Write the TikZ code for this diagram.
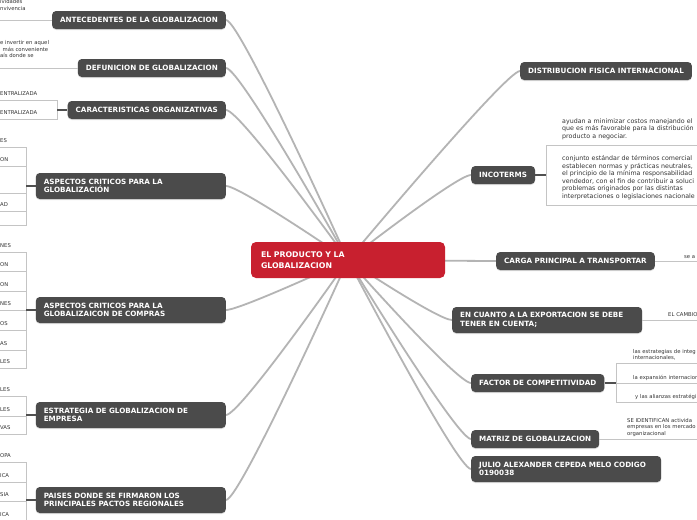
\documentclass[tikz,border=0pt]{standalone}
\usepackage{fontspec}
\setmainfont{DejaVu Sans}
\usepackage{tikz}
\usetikzlibrary{backgrounds, shadows}
\definecolor{topicfill}{HTML}{4B4B4B}
\definecolor{rootfill}{HTML}{C8202F}
\definecolor{branchgray}{HTML}{B4B4B4}
\definecolor{leafgray}{HTML}{C4C4C4}
\definecolor{stubgray}{HTML}{505050}
\definecolor{leafink}{HTML}{333333}
\tikzset{
    rootnode/.style={
        rectangle, rounded corners=5pt, fill=rootfill, text=white,
        font=\fontsize{7.8}{10.5}\selectfont\bfseries, align=left,
        text width=174pt, inner xsep=10pt, minimum height=36pt
    },
    topic/.style={
        rectangle, rounded corners=4pt, fill=topicfill, text=white,
        font=\fontsize{7.2}{8.4}\selectfont\bfseries,
        inner xsep=8pt, inner ysep=0pt, minimum height=18pt,
        drop shadow={shadow xshift=0pt, shadow yshift=-1pt, opacity=0.25}
    },
    widetopic/.style={
        topic, align=left, text width=174pt, inner xsep=8pt, minimum height=26pt
    },
    leaf/.style={
        font=\fontsize{5.3}{6.5}\selectfont, text=leafink, align=left,
        inner xsep=0pt, inner ysep=4pt, anchor=south west
    },
    rightleaf/.style={
        leaf, inner ysep=2.5pt, text width=100pt
    },
    bigleaf/.style={
        leaf, font=\fontsize{6.3}{7.6}\selectfont, inner ysep=5pt, text width=220pt
    },
    branch/.style={draw=branchgray, line width=1.8pt},
    leafline/.style={draw=leafgray, line width=0.8pt},
    stub/.style={draw=stubgray, line width=1.2pt},
}

\begin{document}
\begin{tikzpicture}[x=1pt, y=-1pt]
    \useasboundingbox (0,0) rectangle (697,520);
    \clip (0,0) rectangle (697,520);

    % ── Root ──
    \node[rootnode] (root) at (348,260) {EL PRODUCTO Y LA\\GLOBALIZACION};

    % ── Left topics ──
    \node[topic, anchor=east] (ant) at (226,20) {ANTECEDENTES DE LA GLOBALIZACION};
    \node[topic, anchor=east] (def) at (226,68) {DEFUNICION DE GLOBALIZACION};
    \node[topic, anchor=east] (car) at (226,110) {CARACTERISTICAS ORGANIZATIVAS};
    \node[widetopic, anchor=east] (acg) at (226,186) {ASPECTOS CRITICOS PARA LA\\GLOBALIZACIÓN};
    \node[widetopic, anchor=east] (acc) at (226,310) {ASPECTOS CRITICOS PARA LA\\GLOBALIZAICON DE COMPRAS};
    \node[widetopic, anchor=east] (est) at (226,415) {ESTRATEGIA DE GLOBALIZACION DE\\EMPRESA};
    \node[widetopic, anchor=east] (pai) at (226,500) {PAISES DONDE SE FIRMARON LOS\\PRINCIPALES PACTOS REGIONALES};

    % ── Right topics ──
    \node[topic, anchor=west] (dfi) at (520,71) {DISTRIBUCION FISICA INTERNACIONAL};
    \node[topic, anchor=west] (inc) at (471,175) {INCOTERMS};
    \node[topic, anchor=west] (cpt) at (496,261) {CARGA PRINCIPAL A TRANSPORTAR};
    \node[widetopic, anchor=west] (exp) at (452,320) {EN CUANTO A LA EXPORTACION SE DEBE\\TENER EN CUENTA;};
    \node[topic, anchor=west] (fac) at (471,383) {FACTOR DE COMPETITIVIDAD};
    \node[topic, anchor=west] (mat) at (471,439) {MATRIZ DE GLOBALIZACION};
    \node[widetopic, anchor=west] (jul) at (471,469) {JULIO ALEXANDER CEPEDA MELO CODIGO\\0190038};

    % ── Branches ──
    \begin{pgfonlayer}{background}
        \fill[white] (0,0) rectangle (697,520);
        \draw[branch] (ant.east) .. controls +(14,0) and +(0,0) .. (root.center);
        \draw[branch] (def.east) .. controls +(14,0) and +(0,0) .. (root.center);
        \draw[branch] (car.east) .. controls +(14,0) and +(0,0) .. (root.center);
        \draw[branch] (acg.east) .. controls +(14,0) and +(0,0) .. (root.center);
        \draw[branch] (acc.east) .. controls +(14,0) and +(0,0) .. (root.center);
        \draw[branch] (est.east) .. controls +(14,0) and +(0,0) .. (root.center);
        \draw[branch] (pai.east) .. controls +(14,0) and +(0,0) .. (root.center);
        \draw[branch] (dfi.west) .. controls +(-14,0) and +(0,0) .. (root.center);
        \draw[branch] (inc.west) .. controls +(-14,0) and +(0,0) .. (root.center);
        \draw[branch] (cpt.west) .. controls +(-14,0) and +(0,0) .. (root.center);
        \draw[branch] (exp.west) .. controls +(-14,0) and +(0,0) .. (root.center);
        \draw[branch] (fac.west) .. controls +(-14,0) and +(0,0) .. (root.center);
        \draw[branch] (mat.west) .. controls +(-14,0) and +(0,0) .. (root.center);
        \draw[branch] (jul.west) .. controls +(-14,0) and +(0,0) .. (root.center);
    \end{pgfonlayer}

    % ── Left leaves ──
    \node[leaf, anchor=north west, inner ysep=0pt] (ant1) at (0,-0.5) {ividades\\nvivencia};
    \draw[leafline] (ant.west) -- (ant.west -| ant1.west);

    \node[leaf, anchor=north west, inner ysep=0pt] (def1) at (0,40.5) {e invertir en aquel\\\hspace*{2.5pt}más conveniente\\aís donde se};
    \draw[leafline] (def.west) -- (def.west -| def1.west);

    \coordinate (cark) at (57,110);
    \node[leaf] (car1) at (0,100) {ENTRALIZADA};
    \node[leaf] (car2) at (0,119) {ENTRALIZADA};
    \draw[leafline] (car1.south west) -| (cark);
    \draw[leafline] (car2.south west) -| (cark);
    \draw[stub] (cark) -- (car.west);

    \coordinate (acgk) at (26,186);
    \node[leaf] (acg1) at (0,147) {ES};
    \node[leaf] (acg2) at (0,166) {ON};
    \coordinate (acg3) at (0,193);
    \node[leaf] (acg4) at (0,211) {AD};
    \coordinate (acg5) at (0,225);
    \draw[leafline] (acg1.south west) -| (acgk);
    \draw[leafline] (acg2.south west) -| (acgk);
    \draw[leafline] (acg3) -| (acgk);
    \draw[leafline] (acg4.south west) -| (acgk);
    \draw[leafline] (acg5) -| (acgk);
    \draw[stub] (acgk) -- (acg.west);

    \coordinate (acck) at (26,310);
    \node[leaf] (acc1) at (0,252) {NES};
    \node[leaf] (acc2) at (0,271) {ON};
    \node[leaf] (acc3) at (0,291) {ON};
    \node[leaf] (acc4) at (0,310) {NES};
    \node[leaf] (acc5) at (0,330) {OS};
    \node[leaf] (acc6) at (0,350) {AS};
    \node[leaf] (acc7) at (0,368) {LES};
    \draw[leafline] (acc1.south west) -| (acck);
    \draw[leafline] (acc2.south west) -| (acck);
    \draw[leafline] (acc3.south west) -| (acck);
    \draw[leafline] (acc4.south west) -| (acck);
    \draw[leafline] (acc5.south west) -| (acck);
    \draw[leafline] (acc6.south west) -| (acck);
    \draw[leafline] (acc7.south west) -| (acck);
    \draw[stub] (acck) -- (acc.west);

    \coordinate (estk) at (26,415);
    \node[leaf] (est1) at (0,396) {LES};
    \node[leaf] (est2) at (0,416) {LES};
    \node[leaf] (est3) at (0,434) {VAS};
    \draw[leafline] (est1.south west) -| (estk);
    \draw[leafline] (est2.south west) -| (estk);
    \draw[leafline] (est3.south west) -| (estk);
    \draw[stub] (estk) -- (est.west);

    \coordinate (paik) at (26,500);
    \node[leaf] (pai1) at (0,462) {OPA};
    \node[leaf] (pai2) at (0,482) {ICA};
    \node[leaf] (pai3) at (0,501) {SIA};
    \node[leaf] (pai4) at (0,521) {ICA};
    \draw[leafline] (pai1.south west) -| (paik);
    \draw[leafline] (pai2.south west) -| (paik);
    \draw[leafline] (pai3.south west) -| (paik);
    \draw[leafline] (pai4.south west) -| (paik);
    \draw[stub] (paik) -- (pai.west);

    % ── Right leaves ──
    \coordinate (inck) at (546,175);
    \node[bigleaf] (inc1) at (562,145) {ayudan a minimizar costos manejando el\\que es más favorable para la distribución\\producto a negociar.};
    \node[bigleaf] (inc2) at (562,205) {conjunto estándar de términos comercial\\establecen normas y prácticas neutrales,\\el principio de la mínima responsabilidad\\vendedor, con el fin de contribuir a soluci\\problemas originados por las distintas\\interpretaciones o legislaciones nacionale};
    \draw[leafline] (inck) |- (inc1.south east);
    \draw[leafline] (inck) |- (inc2.south east);
    \draw[stub] (inc.east) -- (inck);

    \node[rightleaf] (cpt1) at (684,261) {se a};
    \draw[leafline] (cpt.east) -- (cpt1.south east);

    \node[rightleaf, inner ysep=3pt] (exp1) at (668,320) {EL CAMBIO};
    \draw[leafline] (exp.east) -- (exp1.south east);

    \coordinate (fack) at (616,383);
    \node[rightleaf] (fac1) at (633,363) {las estrategias de integ\\internacionales,};
    \node[rightleaf] (fac2) at (633,383) {la expansión internacion};
    \node[rightleaf] (fac3) at (635,402) {y las alianzas estratégi};
    \draw[leafline] (fack) |- (fac1.south east);
    \draw[leafline] (fack) |- (fac2.south east);
    \draw[leafline] (fack) |- (fac3.south east);
    \draw[stub] (fac.east) -- (fack);

    \node[rightleaf] (mat1) at (627,439) {SE IDENTIFICAN activida\\empresas en los mercado\\organizacional};
    \draw[leafline] (mat.east) -- (mat1.south east);

\end{tikzpicture}
\end{document}
